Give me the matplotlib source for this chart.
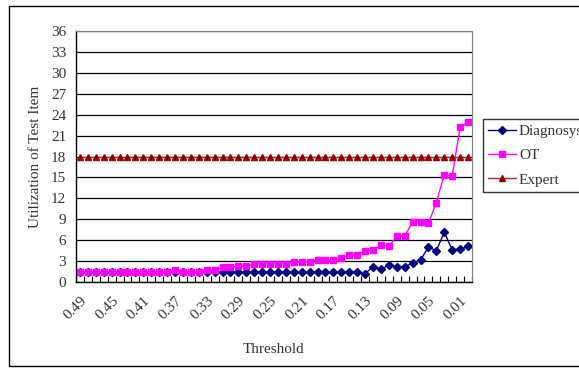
import matplotlib
matplotlib.use("Agg")
import matplotlib.pyplot as plt
from matplotlib.patches import Rectangle

# Données
thresholds = [f"{v / 100:.2f}" for v in range(49, -1, -1)]

diagnosys = [1.5] * 16 + [1.4] * 20 + [1.2, 2.2, 1.8, 2.45, 2.2, 2.2, 2.7, 3.15,
                                       5.0, 4.5, 7.15, 4.6, 4.7, 5.1]
ot = [1.5] * 12 + [1.65, 1.5, 1.5, 1.5, 1.75, 1.65, 2.1, 2.1, 2.3, 2.3,
                    2.6, 2.6, 2.6, 2.6, 2.6, 2.8, 2.9, 2.9, 3.2, 3.1, 3.1,
                    3.5, 3.85, 3.85, 4.45, 4.6, 5.25, 5.1, 6.6, 6.6, 8.6, 8.6,
                    8.4, 11.4, 15.4, 15.2, 22.2, 22.9]
expert = [18] * 50

yticks = list(range(0, 37, 3))

plt.rcParams['font.family'] = ['Liberation Serif', 'DejaVu Serif']

fig = plt.figure(figsize=(5.79, 3.73), dpi=100)
ax = fig.add_axes([76 / 579, 1 - 282 / 373, 396 / 579, 251 / 373])

x = list(range(len(thresholds)))
ax.plot(x, diagnosys, color='#000080', marker='D', markersize=4, lw=1, label='Diagnosys')
ax.plot(x, ot, color='#FF00FF', marker='s', markersize=4.5, lw=1, label='OT')
ax.plot(x, expert, color='#993333', marker='^', markersize=5, lw=1,
        markerfacecolor='#990000', markeredgecolor='#990000', label='Expert')

ax.set_xlim(-0.5, len(thresholds) - 0.5)
ax.set_ylim(0, 36)
ax.set_yticks(yticks)
ax.set_yticklabels([str(t) for t in yticks], fontsize=11, color='#333333')
ax.yaxis.grid(True, color='black', lw=0.9)
ax.set_axisbelow(True)

ax.set_xticks(x[::4])
ax.set_xticklabels(thresholds[::4], rotation=45, ha='right', va='top',
                   rotation_mode='anchor', fontsize=11, color='#333333')
ax.set_xticks([i - 0.5 for i in range(len(thresholds) + 1)], minor=True)
ax.tick_params(axis='x', which='major', length=0, pad=9)
ax.tick_params(axis='x', which='minor', direction='in', length=4, width=0.8)
ax.tick_params(axis='y', length=0, pad=7)

for s in ['top', 'right']:
    ax.spines[s].set_color('#808080')
    ax.spines[s].set_linewidth(0.8)
ax.spines['left'].set_linewidth(1)
ax.spines['bottom'].set_linewidth(1)

ax.set_ylabel("Utilization of Test Item", fontsize=11, color='#333333')
ax.set_xlabel("Threshold", fontsize=11, color='#333333')
ax.yaxis.set_label_coords(-0.087, 0.5)
ax.xaxis.set_label_coords(0.5, -0.245)

leg = fig.legend(loc='upper left', bbox_to_anchor=(483 / 579, 1 - 119 / 373),
                 fontsize=11, frameon=True, fancybox=False, edgecolor='black',
                 borderpad=0.35, labelspacing=0.7, handlelength=1.8,
                 handletextpad=0.2, borderaxespad=0)
leg.get_frame().set_linewidth(1)
for t in leg.get_texts():
    t.set_color('#333333')

fig.patches.append(Rectangle((9 / 579, 1 - 366 / 373), 1.0, 360 / 373,
                             transform=fig.transFigure, fill=False,
                             edgecolor='black', lw=1))

fig.savefig("out.png", dpi=100)
